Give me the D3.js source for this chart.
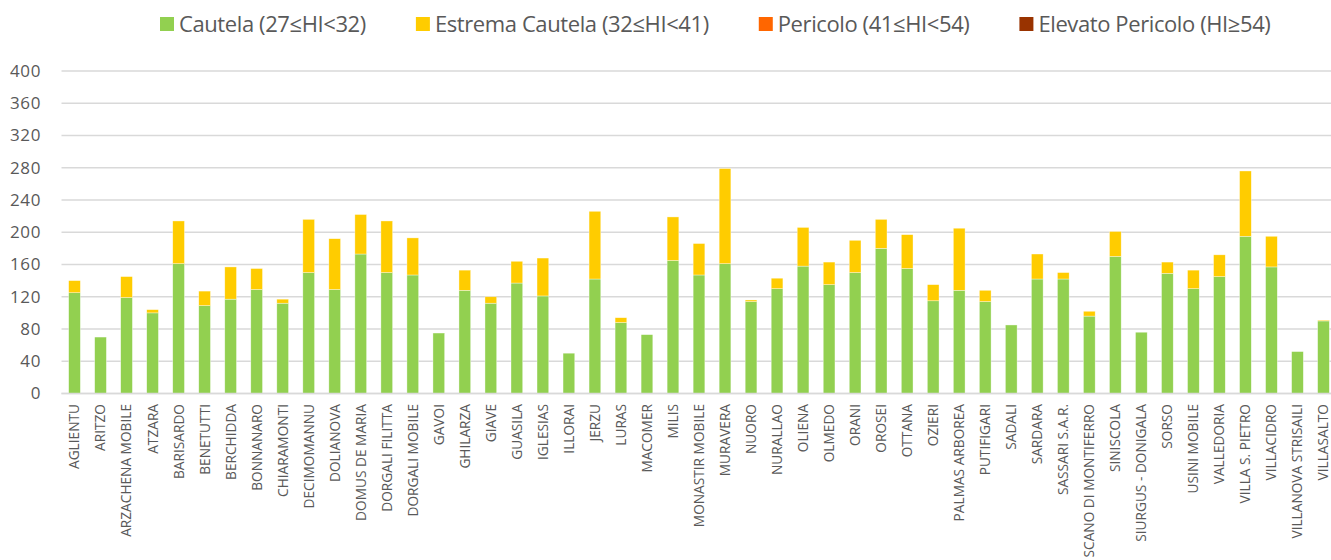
<!DOCTYPE html>
<html><head><meta charset="utf-8">
<script src="https://cdn.jsdelivr.net/npm/d3@7"></script>
<style>
body{margin:0;background:#fff}
svg{display:block}
text{font-family:"Open Sans",sans-serif;fill:#595959}
</style>
</head><body>
<svg id="c" width="1331" height="560"></svg>
<script>
const categories=["AGLIENTU","ARITZO","ARZACHENA MOBILE","ATZARA","BARISARDO","BENETUTTI","BERCHIDDA","BONNANARO","CHIARAMONTI","DECIMOMANNU","DOLIANOVA","DOMUS DE MARIA","DORGALI FILITTA","DORGALI MOBILE","GAVOI","GHILARZA","GIAVE","GUASILA","IGLESIAS","ILLORAI","JERZU","LURAS","MACOMER","MILIS","MONASTIR MOBILE","MURAVERA","NUORO","NURALLAO","OLIENA","OLMEDO","ORANI","OROSEI","OTTANA","OZIERI","PALMAS ARBOREA","PUTIFIGARI","SADALI","SARDARA","SASSARI S.A.R.","SCANO DI MONTIFERRO","SINISCOLA","SIURGUS - DONIGALA","SORSO","USINI MOBILE","VALLEDORIA","VILLA S. PIETRO","VILLACIDRO","VILLANOVA STRISAILI","VILLASALTO"];
const cautela=[125,70,119,100,161,109,117,129,112,150,129,173,150,147,75,128,112,137,121,50,142,88,73,165,147,161,114,130,158,135,150,180,155,115,128,114,85,142,142,96,170,76,149,130,145,195,157,52,90];
const estremaCautela=[15,0,26,4,53,18,40,26,5,66,63,49,64,46,0,25,8,27,47,0,84,6,0,54,39,118,2,13,48,28,40,36,42,20,77,14,0,31,8,6,31,0,14,23,27,81,38,0,1];
const pericolo=[0,0,0,0,0,0,0,0,0,0,0,0,0,0,0,0,0,0,0,0,0,0,0,0,0,0,0,0,0,0,0,0,0,0,0,0,0,0,0,0,0,0,0,0,0,0,0,0,0];
const elevatoPericolo=[0,0,0,0,0,0,0,0,0,0,0,0,0,0,0,0,0,0,0,0,0,0,0,0,0,0,0,0,0,0,0,0,0,0,0,0,0,0,0,0,0,0,0,0,0,0,0,0,0];
const seriesNames=["Cautela (27≤HI<32)","Estrema Cautela (32≤HI<41)","Pericolo (41≤HI<54)","Elevato Pericolo (HI≥54)"];
const seriesColors=["#92D050","#FFCC00","#FF6600","#993300"];
const yTicks=[0,40,80,120,160,200,240,280,320,360,400];

const svg=d3.select("#c");
const keys=["c","e","p","v"];
const rows=categories.map((name,i)=>({name,c:cautela[i],e:estremaCautela[i],p:pericolo[i],v:elevatoPericolo[i]}));
const stack=d3.stack().keys(keys)(rows);

const x=d3.scaleBand().domain(categories).range([61.5,1336.5]).paddingInner(0.55).paddingOuter(0.275);
const y=d3.scaleLinear().domain([0,400]).range([393.5,71]);

// gridlines
svg.append("g").selectAll("line").data(yTicks).join("line")
  .attr("x1",61.5).attr("x2",1331).attr("y1",d=>y(d)).attr("y2",d=>y(d))
  .attr("stroke","#d9d9d9").attr("stroke-width",1.3);

// y axis labels
const yAxis=d3.axisLeft(y).tickValues(yTicks).tickSize(0).tickPadding(0);
const gy=svg.append("g").attr("transform","translate(41,0)").call(yAxis);
gy.select(".domain").remove();
gy.selectAll("text").style("font-size","17px").style("font-family","'Open Sans',sans-serif").attr("fill","#595959").attr("letter-spacing","0.6px");

// bars
svg.append("g").selectAll("g").data(stack).join("g")
  .attr("fill",(d,i)=>seriesColors[i])
  .selectAll("rect").data(d=>d.filter(s=>s[1]-s[0]>0)).join("rect")
  .attr("x",d=>x(d.data.name)).attr("width",x.bandwidth())
  .attr("y",d=>y(d[1])).attr("height",d=>y(d[0])-y(d[1]))
  .attr("stroke","#ffffff").attr("stroke-opacity",0.6).attr("stroke-width",0.6);

// baseline
svg.append("line").attr("x1",61.5).attr("x2",1331).attr("y1",y(0)).attr("y2",y(0))
  .attr("stroke","#d9d9d9").attr("stroke-width",1.3);

// x labels
const xAxis=d3.axisBottom(x).tickSize(0).tickPadding(0);
const gx=svg.append("g").attr("transform","translate(0,404)").call(xAxis);
gx.select(".domain").remove();
gx.selectAll("text").attr("transform","rotate(-90)").attr("text-anchor","end")
  .attr("x",0).attr("y",0).attr("dy","0.36em")
  .style("font-size","13.7px").style("font-family","'Open Sans',sans-serif").attr("fill","#595959");

// legend
const lg=svg.append("g");
let lx=160;
seriesNames.forEach((n,i)=>{
  lg.append("rect").attr("x",lx).attr("y",17).attr("width",14).attr("height",14).attr("fill",seriesColors[i]);
  const t=lg.append("text").attr("x",lx+19).attr("y",31.5).style("font-size","22px").attr("letter-spacing","-0.4px").text(n);
  lx+=19+t.node().getComputedTextLength()+50;
});
</script>
</body></html>
